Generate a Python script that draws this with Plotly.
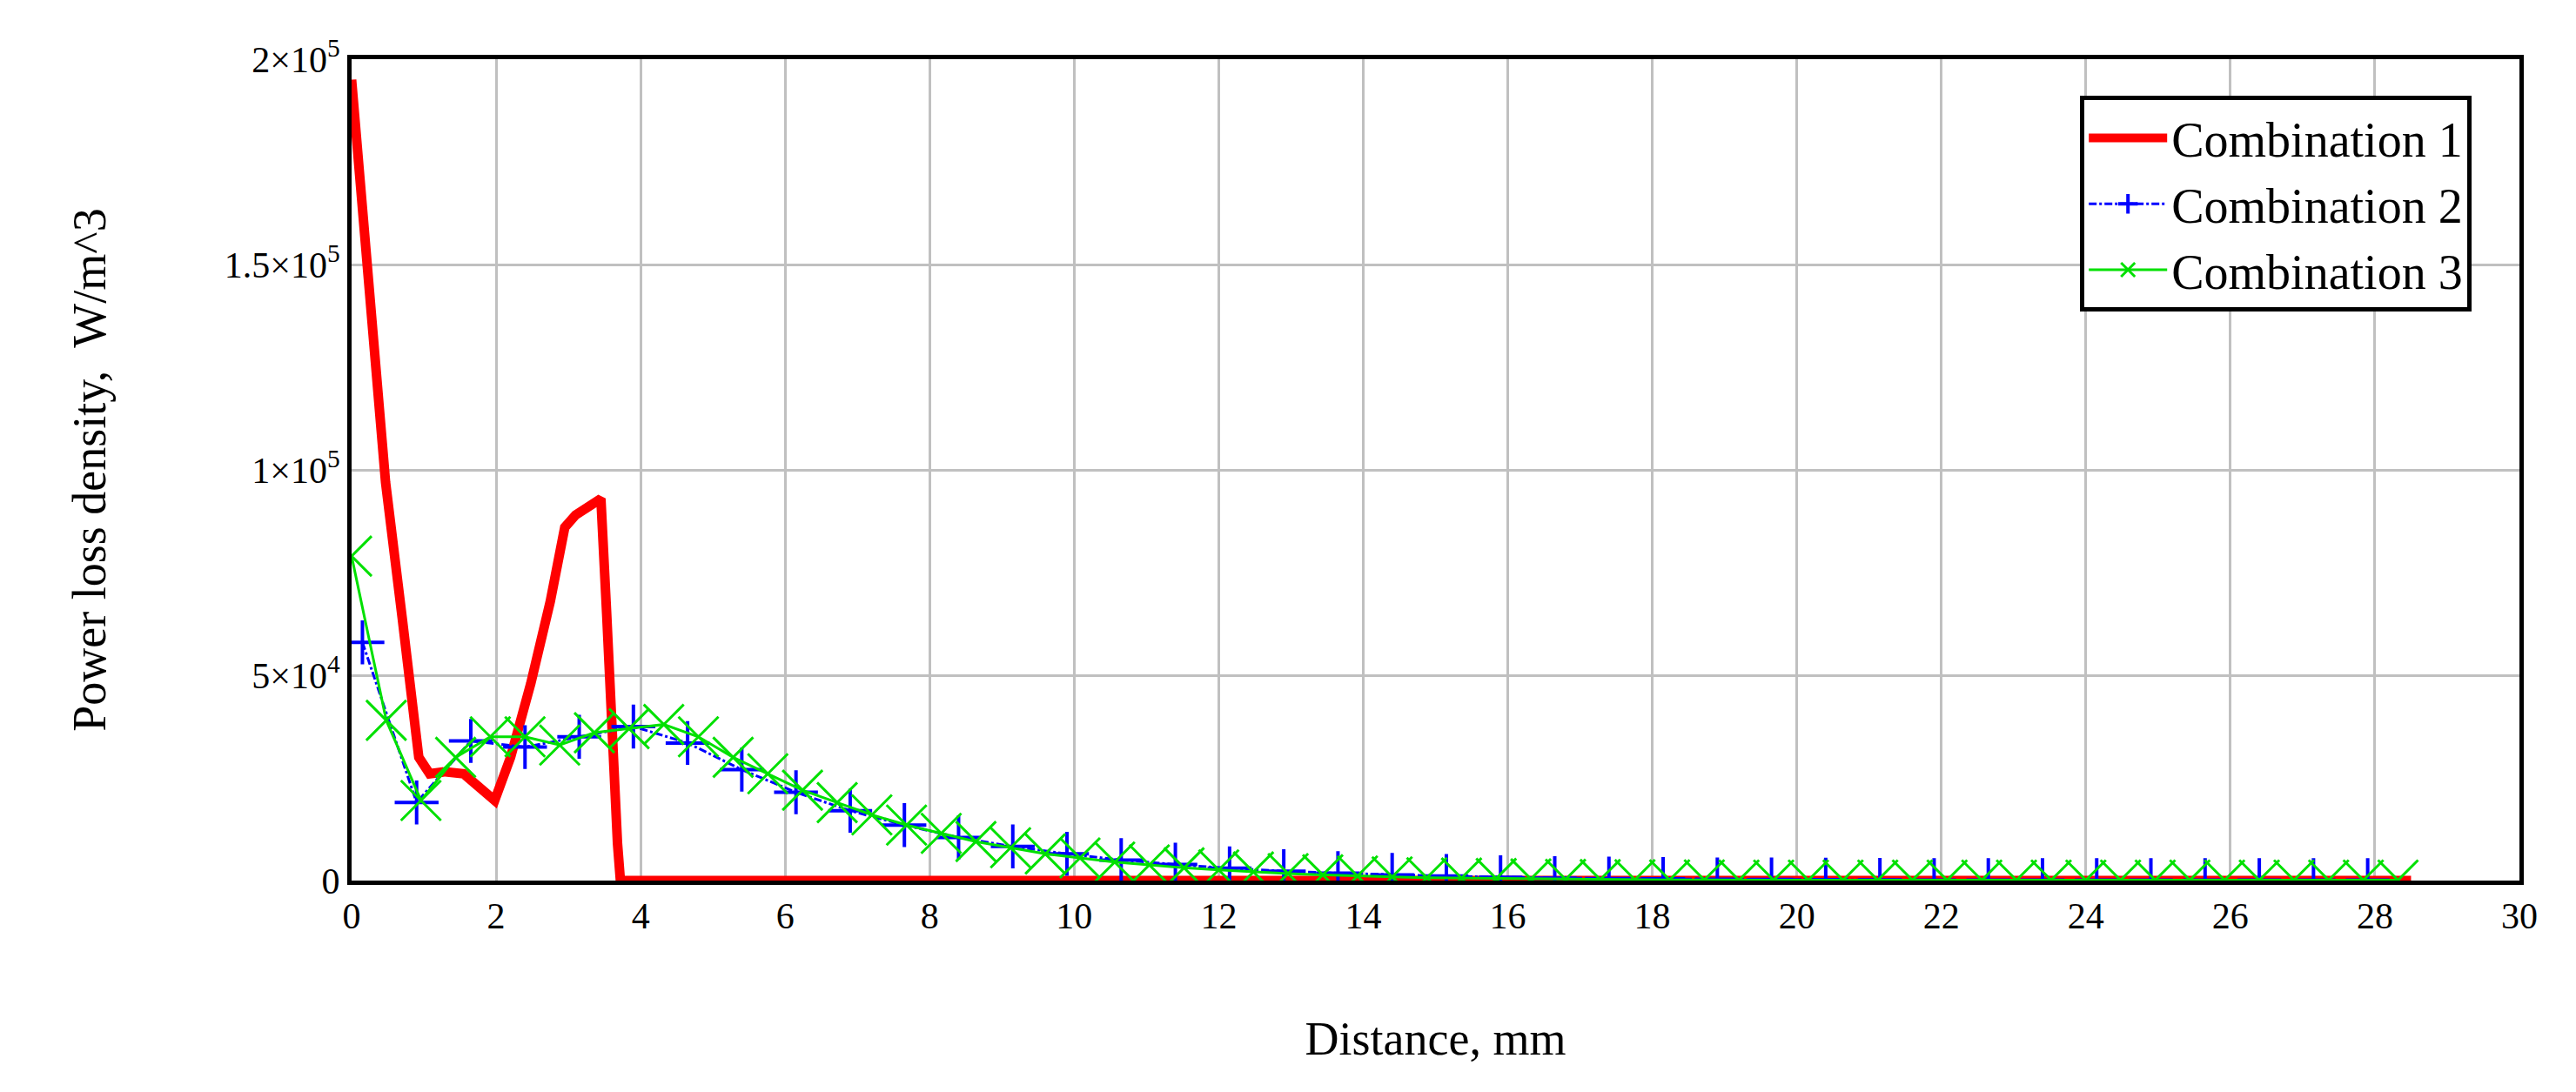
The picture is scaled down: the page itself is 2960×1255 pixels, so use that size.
import plotly.graph_objects as go

c1_x = [0, 0.05, 0.23, 0.47, 0.7, 0.93, 1.08, 1.3, 1.55, 1.75, 1.98, 2.2, 2.48, 2.75, 2.95, 3.1, 3.3, 3.45, 3.53, 3.6, 3.68, 3.72, 10, 20, 28.5]
c1_y = [195000, 185000, 148000, 97000, 64000, 30000, 26000, 26500, 26000, 23000, 19500, 30000, 48000, 68000, 86000, 89000, 91000, 93000, 65000, 35000, 9000, 0, 0, 0, 0]

c2_x = [round(0.15 + 0.75 * k, 2) for k in range(38)]
c2_y = [58000, 19000, 34000, 32500, 35000, 37500, 33500, 27000, 21500, 17000,
        13500, 10500, 8300, 6500, 5000, 3900, 3000, 2300, 1800, 1400,
        1100, 800, 600, 500, 400, 300, 250, 200, 150, 100,
        100, 100, 100, 100, 100, 100, 100, 100]

c3_x = [round(0.48 * k, 2) for k in range(60)]
c3_y = [79000, 39000, 19500, 30000, 35000, 35000, 33000, 36000, 37000, 38000,
        35000, 30000, 26000, 22000, 19000, 16000, 13500, 11500, 9500, 8000,
        6500, 5500, 4500, 3800, 3100, 2600, 2100, 1700, 1400, 1100,
        900, 700, 600, 500, 400, 300, 250, 200, 150, 150,
        100, 100, 100, 100, 100, 100, 100, 100, 100, 100,
        100, 100, 100, 100, 100, 100, 100, 100, 100, 100]

x_ticks = list(range(0, 31, 2))
y_ticks = [0, 50000, 100000, 150000, 200000]
y_ticktext = ["0", "5×10<sup>4</sup>", "1×10<sup>5</sup>", "1.5×10<sup>5</sup>", "2×10<sup>5</sup>"]

font = "Liberation Serif"
fig = go.Figure()
fig.add_trace(go.Scatter(x=c1_x, y=c1_y, mode="lines", name="Combination 1",
                         line=dict(color="#ff0000", width=11)))
fig.add_trace(go.Scatter(x=c2_x, y=c2_y, mode="lines+markers", name="Combination 2",
                         line=dict(color="#0000ff", width=3, dash="dashdot"),
                         marker=dict(symbol="cross-thin", size=36, line=dict(color="#0000ff", width=4))))
fig.add_trace(go.Scatter(x=c3_x, y=c3_y, mode="lines+markers", name="Combination 3",
                         line=dict(color="#00e000", width=3),
                         marker=dict(symbol="x-thin", size=46, line=dict(color="#00e000", width=3))))

axis_common = dict(showgrid=True, gridcolor="#c0c0c0", gridwidth=3, zeroline=False,
                   showline=True, linecolor="black", linewidth=5, mirror=True, ticks="",
                   tickfont=dict(family=font, size=42, color="black"))
fig.update_layout(
    width=2960, height=1255, plot_bgcolor="white", paper_bgcolor="white",
    margin=dict(l=396, r=73, t=60, b=251),
    font=dict(family=font, color="black"),
    xaxis=dict(range=[0, 30], tickvals=x_ticks, **axis_common,
               title=dict(text="Distance, mm", font=dict(family=font, size=54), standoff=100)),
    yaxis=dict(range=[0, 200000], tickvals=y_ticks, ticktext=y_ticktext, **axis_common,
               title=dict(text="Power loss density,  W/m^3", font=dict(family=font, size=54), standoff=120)),
    legend=dict(x=0.978, y=0.955, xanchor="right", yanchor="top", bgcolor="white",
                bordercolor="black", borderwidth=5, font=dict(family=font, size=56),
                itemwidth=90, tracegroupgap=20),
    showlegend=True,
)
fig.write_html("out.html")
